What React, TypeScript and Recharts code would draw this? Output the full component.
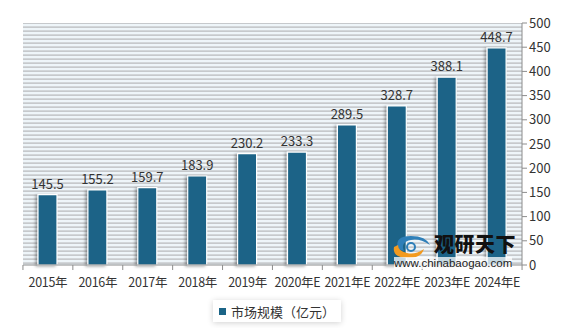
import React from "react";
import { BarChart, Bar, XAxis, YAxis, CartesianGrid, LabelList, Legend } from "recharts";

const years = ["2015年", "2016年", "2017年", "2018年", "2019年", "2020年E", "2021年E", "2022年E", "2023年E", "2024年E"];
const marketSize = [145.5, 155.2, 159.7, 183.9, 230.2, 233.3, 289.5, 328.7, 388.1, 448.7];
const yTicks = [0, 50, 100, 150, 200, 250, 300, 350, 400, 450, 500];
const seriesName = "市场规模（亿元）";

const data = years.map((year, i) => ({ year, value: marketSize[i] }));

const FONT = '"Noto Sans CJK SC", "Noto Sans", sans-serif';
const BAR_COLOR = "#1b6487";
const AXIS_COLOR = "#8c8c8c";

// category ticks sit on the band edges, labels in the middle
const XTick = (props: any) => {
  const { x, y, payload, index } = props;
  const half = 25;
  return (
    <g>
      <line x1={x - half} y1={y - 8} x2={x - half} y2={y - 3} stroke={AXIS_COLOR} />
      {index === years.length - 1 && (
        <line x1={x + half} y1={y - 8} x2={x + half} y2={y - 3} stroke={AXIS_COLOR} />
      )}
      <text
        x={x}
        y={y + 14}
        textAnchor="middle"
        fontSize={12.5}
        fill="#333"
        fontFamily={FONT}
        letterSpacing={-0.3}
      >
        {payload.value}
      </text>
    </g>
  );
};

const LegendBox = () => (
  <div
    style={{
      width: 128,
      height: 22,
      background: "#fff",
      boxShadow: "0 1px 6px rgba(0,0,0,0.18)",
      display: "flex",
      alignItems: "center",
      justifyContent: "center",
      fontFamily: FONT,
      fontSize: 13,
      color: "#333",
    }}
  >
    <span style={{ width: 7, height: 7, background: BAR_COLOR, marginRight: 5, display: "inline-block" }} />
    {seriesName}
  </div>
);

const Watermark = () => (
  <div style={{ position: "absolute", left: 380, top: 224, width: 130, height: 36, pointerEvents: "none" }}>
    <svg width={42} height={28} style={{ position: "absolute", left: 2, top: 0 }}>
      <path d="M8 17 Q4 4 21 4 Q36 4 40 13 Q29 6 21 8 Q10 10 14 19 Z" fill="#2e7fb8" />
      <path d="M4 15 Q2 26 19 26 Q31 26 34 17 Q25 23 17 21 Q8 19 8 13 Z" fill="#f29a1f" />
      <circle cx={21} cy={15} r={4} fill="none" stroke="#2e7fb8" strokeWidth={2} />
    </svg>
    <div
      style={{
        position: "absolute",
        left: 46,
        top: 1,
        fontFamily: FONT,
        fontWeight: 900,
        fontSize: 20,
        letterSpacing: 0.5,
        color: "#111",
        lineHeight: "22px",
      }}
    >
      观研天下
    </div>
    <div
      style={{
        position: "absolute",
        left: 6,
        top: 25,
        fontFamily: "Liberation Sans, Arial, sans-serif",
        fontSize: 11.5,
        color: "#222",
        background: "rgba(255,255,255,0.75)",
        lineHeight: "12px",
      }}
    >
      www.chinabaogao.com
    </div>
  </div>
);

export default function App() {
  return (
    <div
      style={{
        position: "relative",
        width: 553,
        height: 320,
        background: "#fff",
        boxShadow: "1px 1px 6px rgba(0,0,0,0.35)",
      }}
    >
      <BarChart
        width={553}
        height={320}
        data={data}
        margin={{ top: 15, right: 4, left: 15, bottom: 11 }}
        barSize={19}
      >
        <defs>
          <pattern id="stripes" width={8} height={4} patternUnits="userSpaceOnUse">
            <rect x={0} y={0} width={8} height={4} fill="#eef5f9" />
            <rect x={0} y={2.3} width={8} height={1.7} fill="#c6c9cc" />
          </pattern>
          <filter id="barShadow" x="-40%" y="-10%" width="180%" height="130%">
            <feDropShadow dx={-2} dy={1} stdDeviation={1.5} floodColor="#000" floodOpacity={0.35} />
          </filter>
        </defs>
        <CartesianGrid horizontal={false} vertical={false} fill="url(#stripes)" />
        <XAxis
          dataKey="year"
          height={30}
          axisLine={{ stroke: AXIS_COLOR }}
          tickLine={false}
          tick={<XTick />}
          interval={0}
        />
        <YAxis
          orientation="right"
          width={35}
          domain={[0, 500]}
          ticks={yTicks}
          axisLine={{ stroke: AXIS_COLOR }}
          tickLine={{ stroke: AXIS_COLOR }}
          tickSize={5}
          tick={{ fontSize: 13, fill: "#333", fontFamily: FONT, textAnchor: "start" }}
        />
        <Legend
          content={<LegendBox />}
          wrapperStyle={{ left: 205, top: 292, width: 128, bottom: "auto" }}
        />
        <Bar
          dataKey="value"
          name={seriesName}
          fill={BAR_COLOR}
          stroke="#fff"
          strokeWidth={1.2}
          filter="url(#barShadow)"
          isAnimationActive={false}
        >
          <LabelList dataKey="value" position="top" offset={6} fontSize={13} fill="#333" fontFamily={FONT} />
        </Bar>
      </BarChart>
      <Watermark />
    </div>
  );
}
